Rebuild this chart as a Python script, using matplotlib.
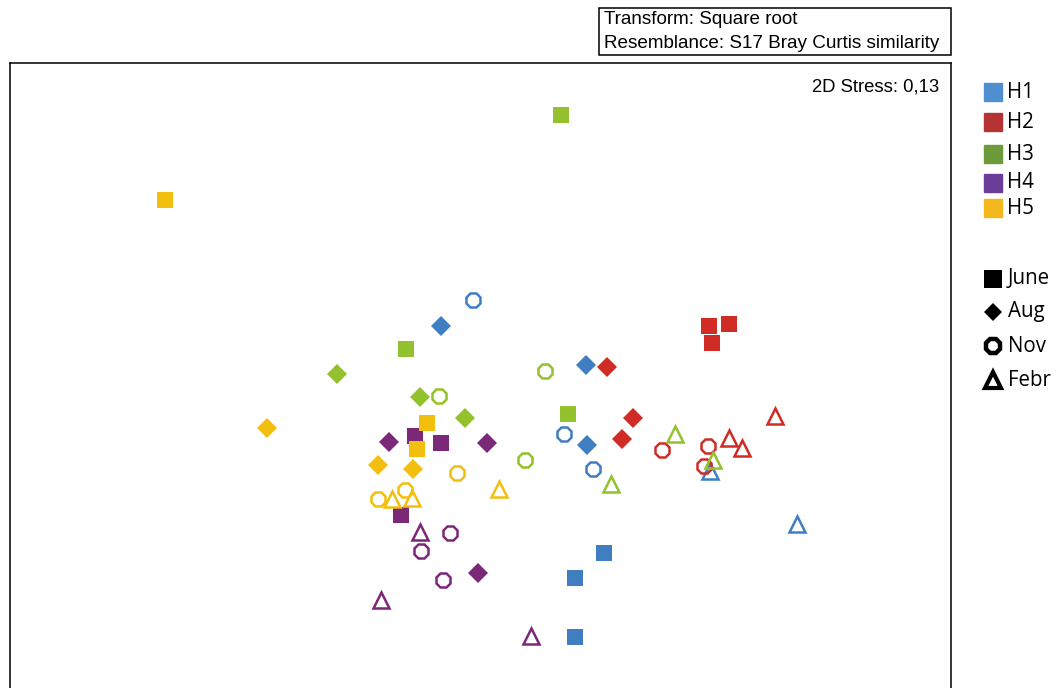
import matplotlib.pyplot as plt
from matplotlib.lines import Line2D
from matplotlib.patches import Rectangle

# nMDS coordinates (arbitrary units)
sites = ['H1', 'H2', 'H3', 'H4', 'H5']
months = ['June', 'Aug', 'Nov', 'Febr']

h1_x = {'June': [1.24, 0.95, 0.95], 'Aug': [-0.39, 1.06, 1.07], 'Nov': [-0.07, 0.84, 1.13], 'Febr': [2.30, 3.17]}
h1_y = {'June': [-2.03, -2.28, -2.87], 'Aug': [0.24, -0.15, -0.95], 'Nov': [0.50, -0.84, -1.19], 'Febr': [-1.21, -1.74]}

h2_x = {'June': [2.29, 2.49, 2.32], 'Aug': [1.27, 1.53, 1.42], 'Nov': [1.82, 2.28, 2.24], 'Febr': [2.95, 2.49, 2.62]}
h2_y = {'June': [0.24, 0.26, 0.07], 'Aug': [-0.17, -0.68, -0.89], 'Nov': [-1.00, -0.96, -1.16], 'Febr': [-0.66, -0.88, -0.98]}

h3_x = {'June': [0.81, -0.74, 0.88], 'Aug': [-1.43, -0.60, -0.15], 'Nov': [-0.41, 0.65, 0.45], 'Febr': [1.95, 2.33, 1.31]}
h3_y = {'June': [2.35, 0.01, -0.64], 'Aug': [-0.24, -0.47, -0.68], 'Nov': [-0.46, -0.21, -1.10], 'Febr': [-0.84, -1.10, -1.34]}

h4_x = {'June': [-0.65, -0.39, -0.79], 'Aug': [-0.91, 0.07, -0.02], 'Nov': [-0.30, -0.59, -0.37], 'Febr': [-0.60, -0.99, 0.51]}
h4_y = {'June': [-0.86, -0.93, -1.65], 'Aug': [-0.92, -0.93, -2.23], 'Nov': [-1.83, -2.01, -2.30], 'Febr': [-1.82, -2.50, -2.86]}

h5_x = {'June': [-3.15, -0.53, -0.63], 'Aug': [-2.13, -1.02, -0.67], 'Nov': [-0.23, -1.02, -0.75], 'Febr': [-0.88, -0.68, 0.19]}
h5_y = {'June': [1.50, -0.73, -0.99], 'Aug': [-0.78, -1.15, -1.19], 'Nov': [-1.23, -1.49, -1.40], 'Febr': [-1.49, -1.48, -1.39]}

xs = [h1_x, h2_x, h3_x, h4_x, h5_x]
ys = [h1_y, h2_y, h3_y, h4_y, h5_y]

colors = ['#3f7fc1', '#d02b24', '#94c12e', '#7b2878', '#f2bf0f']
legend_colors = ['#4f8fd0', '#b53333', '#6d9b3b', '#6a3d98', '#f3b91c']

# marker, size, filled, edge width
mstyle = {'June': ('s', 12, True, 0),
          'Aug': ('D', 9.8, True, 0),
          'Nov': ('8', 11.5, False, 1.8),
          'Febr': ('^', 12, False, 1.8)}

W, H = 1057, 688
def fx(px):
    return px / W
def fy(py):
    return 1 - py / H

fig = plt.figure(figsize=(W / 100, H / 100), dpi=100)
ax = fig.add_axes([fx(10), fy(700), (951 - 10) / W, (700 - 63) / H])

for i, s in enumerate(sites):
    for m in months:
        mk, ms, filled, mew = mstyle[m]
        ax.plot(xs[i][m], ys[i][m], ls='none', marker=mk, ms=ms,
                mfc=colors[i] if filled else 'none', mec=colors[i], mew=mew)

ax.set_xlim(-4.70, 4.71)
ax.set_ylim(-3.50, 2.87)
ax.set_xticks([])
ax.set_yticks([])
for sp in ax.spines.values():
    sp.set_linewidth(1.1)

ax.text(0.988, 0.975, '2D Stress: 0,13', transform=ax.transAxes, ha='right', va='top',
        fontsize=13.3, family='Liberation Sans')

# header box
fig.patches.append(Rectangle((fx(599), fy(55)), (951 - 599) / W, (55 - 8) / H,
                             transform=fig.transFigure, fill=False, lw=1.1, ec='black'))
fig.text(fx(604), fy(19), 'Transform: Square root', ha='left', va='center',
         fontsize=13.6, family='Liberation Sans')
fig.text(fx(604), fy(43), 'Resemblance: S17 Bray Curtis similarity', ha='left', va='center',
         fontsize=13.6, family='Liberation Sans')

# legend, drawn by hand
site_y = [92, 122, 154, 183, 208]
for i, s in enumerate(sites):
    fig.add_artist(Line2D([fx(993)], [fy(site_y[i])], marker='s', ms=13, ls='none',
                          mfc=legend_colors[i], mec=legend_colors[i], transform=fig.transFigure))
    fig.text(fx(1007), fy(site_y[i]), s, ha='left', va='center', fontsize=14.8, family='Open Sans')

month_y = [279, 312, 346, 380]
leg_m = {'June': ('s', 12.5, True, 0), 'Aug': ('D', 9, True, 0),
         'Nov': ('8', 10.5, False, 3.2), 'Febr': ('^', 11.5, False, 3)}
for j, m in enumerate(months):
    mk, ms, filled, mew = leg_m[m]
    fig.add_artist(Line2D([fx(993)], [fy(month_y[j])], marker=mk, ms=ms, ls='none',
                          mfc='black' if filled else 'none', mec='black', mew=mew,
                          transform=fig.transFigure))
    fig.text(fx(1008), fy(month_y[j]), m, ha='left', va='center', fontsize=14.8, family='Open Sans')

fig.savefig('out.png', dpi=100)
